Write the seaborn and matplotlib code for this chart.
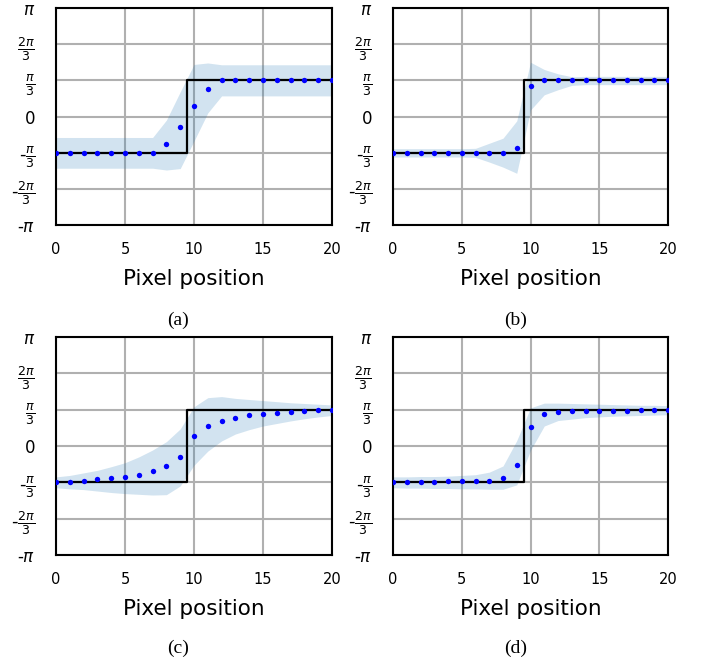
import numpy as np
import matplotlib
matplotlib.use("Agg")
import matplotlib.pyplot as plt
import seaborn as sns

sns.set_style("white")
plt.rcParams["font.family"] = ["DejaVu Sans"]
plt.rcParams["mathtext.fontset"] = "dejavusans"
plt.rcParams.update({"text.color": "black", "axes.labelcolor": "black",
                     "xtick.color": "black", "ytick.color": "black"})

# Pixel positions along the profile
pixels = list(range(21))

# Ground-truth phase step (units of pi/3)
truth = [-1] * 10 + [1] * 11

# Estimated phase per panel (units of pi/3): mean, lower and upper band edges
mean_a = [-1, -1, -1, -1, -1, -1, -1, -1, -0.76, -0.30, 0.30, 0.76,
          1, 1, 1, 1, 1, 1, 1, 1, 1]
lower_a = [-1.43, -1.43, -1.43, -1.43, -1.43, -1.43, -1.43, -1.43, -1.48, -1.44,
           -0.68, 0.10, 0.57, 0.57, 0.57, 0.57, 0.57, 0.57, 0.57, 0.57, 0.57]
upper_a = [-0.58, -0.58, -0.58, -0.58, -0.58, -0.58, -0.58, -0.58, -0.10, 0.68,
           1.44, 1.48, 1.43, 1.43, 1.43, 1.43, 1.43, 1.43, 1.43, 1.43, 1.43]

mean_b = [-1, -1, -1, -1, -1, -1, -1, -1, -1, -0.86, 0.85,
          1, 1, 1, 1, 1, 1, 1, 1, 1, 1]
lower_b = [-1.12, -1.12, -1.12, -1.12, -1.12, -1.12, -1.13, -1.26, -1.40, -1.57,
           0.18, 0.60, 0.74, 0.86, 0.88, 0.88, 0.88, 0.88, 0.88, 0.88, 0.88]
upper_b = [-0.89, -0.89, -0.89, -0.89, -0.89, -0.89, -0.88, -0.74, -0.60, -0.12,
           1.50, 1.30, 1.18, 1.10, 1.11, 1.11, 1.11, 1.11, 1.11, 1.11, 1.11]

mean_c = [-1.0, -0.98, -0.95, -0.92, -0.89, -0.86, -0.80, -0.70, -0.55, -0.29,
          0.28, 0.54, 0.69, 0.78, 0.85, 0.89, 0.92, 0.94, 0.96, 0.98, 0.99]
lower_c = [-1.15, -1.18, -1.20, -1.24, -1.28, -1.31, -1.33, -1.35, -1.34, -1.10,
           -0.53, -0.14, 0.14, 0.33, 0.45, 0.55, 0.62, 0.69, 0.75, 0.80, 0.84]
upper_c = [-0.85, -0.81, -0.74, -0.67, -0.57, -0.46, -0.30, -0.11, 0.12, 0.47,
           1.08, 1.33, 1.36, 1.31, 1.28, 1.25, 1.22, 1.19, 1.17, 1.15, 1.13]

mean_d = [-1.0, -0.99, -0.99, -0.98, -0.97, -0.96, -0.96, -0.95, -0.87, -0.52,
          0.51, 0.87, 0.94, 0.95, 0.95, 0.96, 0.97, 0.97, 0.98, 0.99, 0.99]
lower_d = [-1.15, -1.16, -1.16, -1.17, -1.17, -1.18, -1.18, -1.19, -1.19, -1.07,
           -0.12, 0.55, 0.70, 0.74, 0.78, 0.80, 0.82, 0.83, 0.84, 0.85, 0.86]
upper_d = [-0.85, -0.85, -0.84, -0.84, -0.83, -0.81, -0.79, -0.72, -0.55, 0.15,
           1.05, 1.18, 1.18, 1.17, 1.16, 1.15, 1.14, 1.13, 1.12, 1.12, 1.11]

panels = [
    ("(a)", mean_a, lower_a, upper_a),
    ("(b)", mean_b, lower_b, upper_b),
    ("(c)", mean_c, lower_c, upper_c),
    ("(d)", mean_d, lower_d, upper_d),
]

ytick_vals = [-3, -2, -1, 0, 1, 2, 3]
ytick_labels = [r"-$\pi$", r"-$\frac{2\pi}{3}$", r"-$\frac{\pi}{3}$", r"$0$",
                r"$\frac{\pi}{3}$", r"$\frac{2\pi}{3}$", r"$\pi$"]
xtick_vals = [0, 5, 10, 15, 20]

unit = np.pi / 3

W, H = 702, 664
fig = plt.figure(figsize=(W / 100, H / 100), dpi=100)

# axes boxes in pixels: left, top, right, bottom
boxes = [(56, 8, 332, 225), (393, 8, 668, 225),
         (56, 337, 332, 555), (393, 337, 668, 555)]
caption_pos = [(178, 320), (516, 320), (178, 648), (516, 648)]

x = np.array(pixels, dtype=float)
for (label, mean, lo, hi), (l, t, r, b), (cx, cy) in zip(panels, boxes, caption_pos):
    ax = fig.add_axes([l / W, 1 - b / H, (r - l) / W, (b - t) / H])
    ax.fill_between(x, np.array(lo) * unit, np.array(hi) * unit,
                    color="#1f77b4", alpha=0.2, linewidth=0, zorder=2)
    sns.lineplot(x=x, y=np.array(truth) * unit, ax=ax, color="black",
                 linewidth=1.6, drawstyle="steps-mid", zorder=3)
    sns.scatterplot(x=x, y=np.array(mean) * unit, ax=ax, color="blue",
                    s=15, linewidth=0, zorder=4)
    ax.set_xlim(0, 20)
    ax.set_ylim(-np.pi, np.pi)
    ax.set_xticks(xtick_vals)
    ax.set_yticks(np.array(ytick_vals) * unit)
    ax.set_yticklabels(ytick_labels)
    ax.grid(True, color="#b0b0b0", linewidth=1.5, zorder=0)
    ax.set_axisbelow(True)
    for sp in ax.spines.values():
        sp.set_color("black")
        sp.set_linewidth(1.5)
    ax.tick_params(axis="both", direction="out", length=6, width=1.5,
                   color="black", labelsize=10.5)
    ax.tick_params(axis="y", pad=9)
    ax.tick_params(axis="x", pad=6)
    for tl in ax.get_yticklabels():
        tl.set_fontsize(13 if "frac" in tl.get_text() else 12)
    ax.set_xlabel("Pixel position", fontsize=15.5, labelpad=9)
    ax.set_ylabel("")
    fig.text(cx / W, 1 - cy / H, label, ha="center", va="center",
             fontsize=14, family="Liberation Serif")

fig.savefig("out.png", dpi=100)
